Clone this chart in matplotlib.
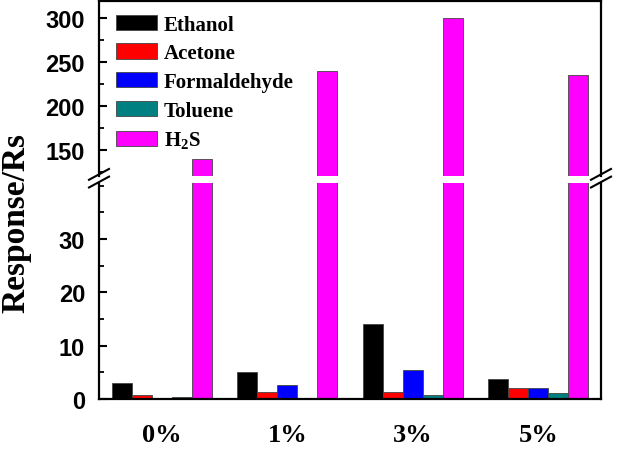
import numpy as np
import matplotlib
matplotlib.use("Agg")
import matplotlib.pyplot as plt
from matplotlib.ticker import MultipleLocator

plt.rcParams['mathtext.fontset'] = 'custom'
plt.rcParams['mathtext.rm'] = 'Liberation Serif:bold'
plt.rcParams['mathtext.bf'] = 'Liberation Serif:bold'

groups = ["0%", "1%", "3%", "5%"]
gases = ["Ethanol", "Acetone", "Formaldehyde", "Toluene", r"H$_2$S"]
colors = ["#000000", "#ff0000", "#0000ff", "#008080", "#ff00ff"]

ethanol = [3.0, 5.1, 14.0, 3.7]
acetone = [0.8, 1.4, 1.4, 2.0]
formaldehyde = [0.05, 2.6, 5.5, 2.1]
toluene = [0.3, 0.1, 0.7, 1.1]
h2s = [140, 240, 300, 235]
values = [ethanol, acetone, formaldehyde, toluene, h2s]

fig = plt.figure(figsize=(6.25, 4.52), dpi=100)
ax_top = fig.add_axes([0.1584, 0.6084, 0.8032, 0.3872])
ax_bot = fig.add_axes([0.1584, 0.115, 0.8032, 0.478])

x = np.arange(len(groups))
w = 0.159
for ax in (ax_top, ax_bot):
    for i, (vals, c) in enumerate(zip(values, colors)):
        ax.bar(x + (i - 2) * w, vals, w, color=c, edgecolor="#444444",
               linewidth=0.6, label=gases[i])
    ax.set_xlim(-0.5, 3.5)
    for s in ax.spines.values():
        s.set_linewidth(1.6)
    ax.tick_params(axis='y', direction='in', length=6, width=1.5,
                   labelsize=17, right=False, pad=10)
    ax.tick_params(axis='y', which='minor', direction='in', length=3.5,
                   width=1.3, right=False)

ax_top.set_ylim(120, 320)
ax_top.yaxis.set_minor_locator(MultipleLocator(25))
ax_top.set_yticks([150, 200, 250, 300])
ax_top.spines['bottom'].set_visible(False)
ax_top.set_xticks([])

ax_bot.set_ylim(0, 40.5)
ax_bot.set_yticks([0, 10, 20, 30])
ax_bot.yaxis.set_minor_locator(MultipleLocator(5))
ax_bot.spines['top'].set_visible(False)
ax_bot.set_xticks(x)
ax_bot.set_xticklabels(groups, fontsize=19, fontweight='bold',
                       fontfamily='Liberation Serif')
ax_bot.tick_params(axis='x', length=0, pad=17)

for ax in (ax_top, ax_bot):
    for lab in ax.get_yticklabels():
        lab.set_fontweight('bold')
        lab.set_fontfamily('Liberation Sans')

# break marks
d = 0.016
for xs in (0, 1):
    for yy in (-0.005, 0.012):
        fig.lines.append(plt.Line2D(
            [0.1584 + xs * 0.8032 - d, 0.1584 + xs * 0.8032 + d],
            [0.6000 + yy - 0.012, 0.6000 + yy + 0.012],
            transform=fig.transFigure, color='black', lw=1.5))

fig.text(0.026, 0.507, "Response/Rs", rotation=90, va='center', ha='center',
         fontsize=24, fontweight='bold', fontfamily='Liberation Serif')

leg = ax_top.legend(loc='upper left', frameon=False, bbox_to_anchor=(0.0, 1.018),
                    prop={'family': 'Liberation Serif', 'weight': 'bold', 'size': 15},
                    handlelength=2.0, handleheight=0.75, labelspacing=0.42,
                    handletextpad=0.3, borderaxespad=0.4)

fig.savefig("out.png", dpi=100)
